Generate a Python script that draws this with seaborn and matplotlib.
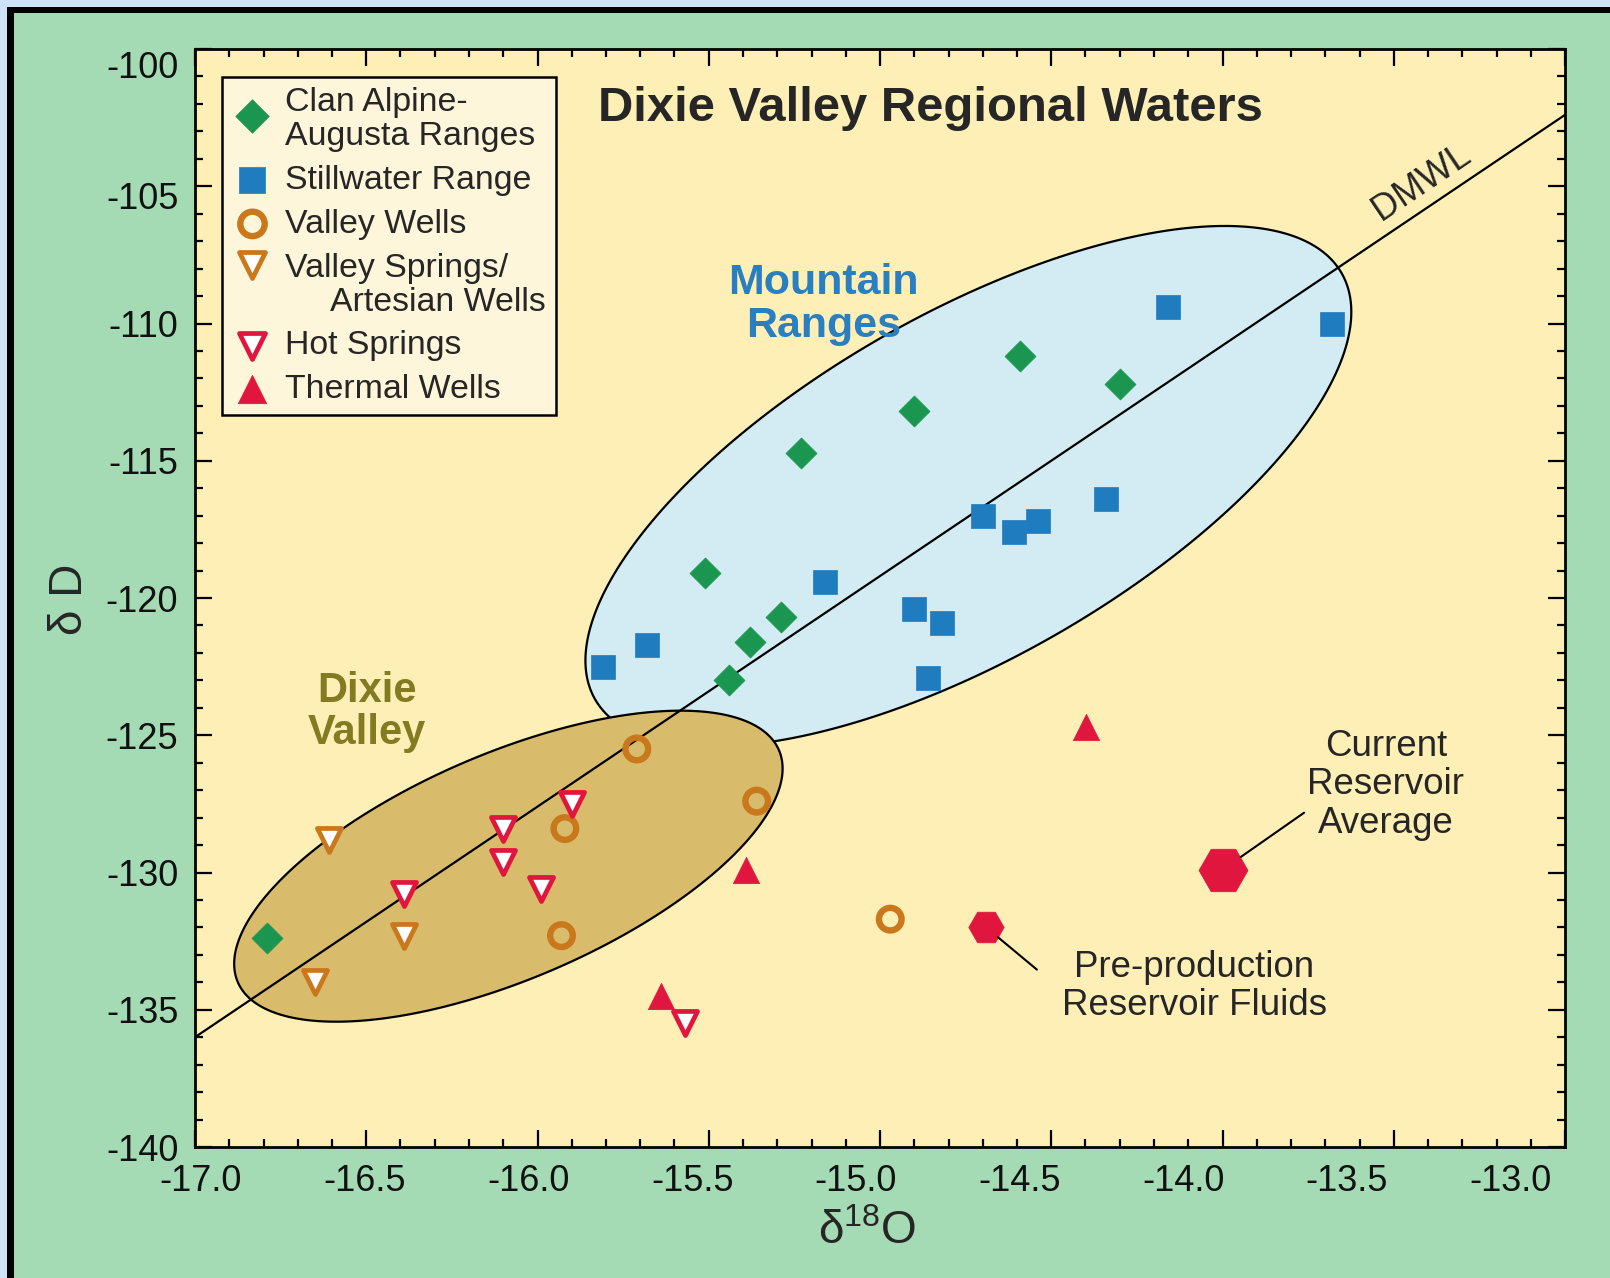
import numpy as np
import matplotlib
matplotlib.use("Agg")
import matplotlib.pyplot as plt
import seaborn as sns
from matplotlib.patches import Rectangle
from matplotlib.ticker import MultipleLocator
from matplotlib.transforms import ScaledTranslation

# ---------------------------------------------------------------------------
# Isotope data: delta-18O (per mil VSMOW) and delta-D (per mil VSMOW)
# ---------------------------------------------------------------------------
clan_o18 = [-16.79, -15.51, -15.44, -15.38, -15.29, -15.23, -14.90, -14.59, -14.30]
clan_d = [-132.4, -119.1, -123.0, -121.6, -120.7, -114.7, -113.2, -111.2, -112.2]

still_o18 = [-15.81, -15.68, -15.16, -14.90, -14.82, -14.86,
             -14.70, -14.61, -14.54, -14.34, -14.16, -13.68]
still_d = [-122.5, -121.7, -119.4, -120.4, -120.9, -122.9,
           -117.0, -117.6, -117.2, -116.4, -109.4, -110.0]

vwell_o18 = [-15.71, -15.92, -15.36, -15.93, -14.97]
vwell_d = [-125.5, -128.4, -127.4, -132.3, -131.7]

vspring_o18 = [-16.61, -16.39, -16.65]
vspring_d = [-128.8, -132.3, -134.0]

hot_o18 = [-16.39, -16.10, -16.10, -15.99, -15.90, -15.57]
hot_d = [-130.8, -128.4, -129.6, -130.6, -127.5, -135.5]

therm_o18 = [-15.39, -15.64, -14.40]
therm_d = [-129.9, -134.5, -124.7]

preprod_o18 = [-14.69]
preprod_d = [-132.0]
current_o18 = [-14.00]
current_d = [-129.9]

# Dixie Valley meteoric water line: dD = slope * d18O + intercept
dmwl_slope = 8.4
dmwl_intercept = 6.8
dmwl_o18 = np.array([-17.0, -13.0])

# Field outlines: centre plus two conjugate half-axes, in (d18O, dD) units
mountain_center = (-14.742, -115.93)
mountain_u = (1.090, 7.759)
mountain_v = (-0.249, 5.452)
valley_center = (-16.085, -129.77)
valley_u = (0.790, 4.225)
valley_v = (-0.130, 3.774)

x_ticks = [-17.0, -16.5, -16.0, -15.5, -15.0, -14.5, -14.0, -13.5, -13.0]
x_tick_labels = ["-17.0", "-16.5", "-16.0", "-15.5", "-15.0",
                 "-14.5", "-14.0", "-13.5", "-13.0"]
y_ticks = [-140, -135, -130, -125, -120, -115, -110, -105, -100]
y_tick_labels = ["-140", "-135", "-130", "-125", "-120",
                 "-115", "-110", "-105", "-100"]

# ---------------------------------------------------------------------------
# Colours
# ---------------------------------------------------------------------------
OUTER = "#cfe3f8"
FRAME = "#000000"
PANEL = "#a4dab4"
PLOT_BG = "#fdefb6"
LEGEND_BG = "#fdf6da"
MOUNTAIN_FILL = "#d3ecf4"
VALLEY_FILL = "#d8bb6b"
GREEN = "#1b9650"
BLUE = "#1f7cbf"
ORANGE = "#c9781c"
RED = "#e0163e"
MOUNTAIN_TXT = "#2a7fc0"
VALLEY_TXT = "#847a22"

sns.set_style("ticks")
plt.rcParams["font.family"] = ["Liberation Sans", "DejaVu Sans"]
plt.rcParams["mathtext.fontset"] = "custom"
plt.rcParams["mathtext.rm"] = "Liberation Sans"
plt.rcParams["mathtext.it"] = "Liberation Sans:italic"
plt.rcParams["mathtext.bf"] = "Liberation Sans:bold"
plt.rcParams["axes.unicode_minus"] = False

W, H = 1610, 1278
fig = plt.figure(figsize=(W / 100, H / 100), dpi=100, facecolor=OUTER)

# Framed panel behind the plot
fig.add_artist(Rectangle((7 / W, 0), 1, 1 - 7 / H, transform=fig.transFigure,
                         facecolor=FRAME, edgecolor="none", zorder=-20))
fig.add_artist(Rectangle((14 / W, 0), 1, 1 - 13 / H, transform=fig.transFigure,
                         facecolor=PANEL, edgecolor="none", zorder=-19))

ax = fig.add_axes([195 / W, 131 / H, 1370 / W, 1098 / H])
ax.set_facecolor(PLOT_BG)


def ellipse_outline(center, u, v, n=400):
    t = np.linspace(0, 2 * np.pi, n)
    xs = center[0] + u[0] * np.cos(t) + v[0] * np.sin(t)
    ys = center[1] + u[1] * np.cos(t) + v[1] * np.sin(t)
    return xs, ys


mx, my = ellipse_outline(mountain_center, mountain_u, mountain_v)
ax.fill(mx, my, facecolor=MOUNTAIN_FILL, edgecolor="black", linewidth=1.6, zorder=1)
vx, vy = ellipse_outline(valley_center, valley_u, valley_v)
ax.fill(vx, vy, facecolor=VALLEY_FILL, edgecolor="black", linewidth=1.6, zorder=1.5)

# Meteoric water line
sns.lineplot(x=dmwl_o18, y=dmwl_slope * dmwl_o18 + dmwl_intercept,
             color="black", linewidth=1.6, ax=ax, zorder=2)

# Sample groups
sns.scatterplot(x=clan_o18, y=clan_d, marker="D", s=250, color=GREEN,
                edgecolor=GREEN, linewidth=0.5, label="Clan Alpine-\nAugusta Ranges",
                ax=ax, zorder=4)
sns.scatterplot(x=still_o18, y=still_d, marker="s", s=280, color=BLUE,
                edgecolor=BLUE, linewidth=0.5, label="Stillwater Range",
                ax=ax, zorder=4)
sns.scatterplot(x=vwell_o18, y=vwell_d, marker="o", s=265, color="none",
                edgecolor=ORANGE, linewidth=4.6, label="Valley Wells",
                ax=ax, zorder=4)
sns.scatterplot(x=vspring_o18, y=vspring_d, marker="v", s=300, color="white",
                edgecolor=ORANGE, linewidth=3.4,
                label="Valley Springs/\n     Artesian Wells", ax=ax, zorder=4)
sns.scatterplot(x=hot_o18, y=hot_d, marker="v", s=300, color="white",
                edgecolor=RED, linewidth=3.4, label="Hot Springs", ax=ax, zorder=4)
sns.scatterplot(x=therm_o18, y=therm_d, marker="^", s=360, color=RED,
                edgecolor=RED, linewidth=0.5, label="Thermal Wells", ax=ax, zorder=4)

# Reservoir fluids
sns.scatterplot(x=preprod_o18, y=preprod_d, marker="H", s=650, color=RED,
                edgecolor=RED, linewidth=0.5, ax=ax, zorder=4, legend=False)
sns.scatterplot(x=current_o18, y=current_d, marker="H", s=1250, color=RED,
                edgecolor=RED, linewidth=0.5, ax=ax, zorder=4, legend=False)

# Axes limits, ticks
ax.set_xlim(-17.0, -13.0)
ax.set_ylim(-140, -100)
ax.xaxis.set_major_locator(MultipleLocator(0.5))
ax.xaxis.set_minor_locator(MultipleLocator(0.1))
ax.set_yticks(y_ticks, labels=y_tick_labels)
ax.yaxis.set_minor_locator(MultipleLocator(1))
ax.tick_params(which="both", direction="in", top=True, right=True,
               width=1.6, color="black")
ax.tick_params(which="major", length=12)
ax.tick_params(which="minor", length=6)
ax.tick_params(axis="x", labelbottom=False)
ax.tick_params(axis="y", labelsize=26, pad=12, labelcolor="#111111")
for side in ax.spines.values():
    side.set_linewidth(2.0)
    side.set_color("black")

# Top labels sit a little lower to stay clear of the frame
y_label_nudge = {-100: 11, -105: 6.5}
for tick_val, lbl in zip(y_ticks, ax.get_yticklabels()):
    if tick_val in y_label_nudge:
        lbl.set_transform(lbl.get_transform() +
                          ScaledTranslation(0, -y_label_nudge[tick_val] / 72,
                                            fig.dpi_scale_trans))

# d18O labels are carried by a label-only bottom axis
label_stretch = 0.956
label_shift = 0.0175


def o18_to_label(x):
    return -17.0 + ((np.asarray(x) + 17.0) - label_shift) / label_stretch


def label_to_o18(v):
    return -17.0 + (np.asarray(v) + 17.0) * label_stretch + label_shift


sec = ax.secondary_xaxis("bottom", functions=(o18_to_label, label_to_o18))
sec.set_xticks(x_ticks, labels=x_tick_labels)
sec.tick_params(length=0, pad=12.5, labelsize=26, labelcolor="#111111")
sec.spines["bottom"].set_visible(False)

ax.set_xlabel(r"δ$^{18}$O", fontsize=33)
ax.xaxis.set_label_coords(0.491, -0.057)
ax.set_ylabel("δ D", fontsize=33)
ax.yaxis.set_label_coords(-0.075, 0.499)

# Titles and field names
ax.text(0.537, 0.946, "Dixie Valley Regional Waters", transform=ax.transAxes,
        fontsize=35.3, fontweight="bold", ha="center", va="center", zorder=6)
ax.text(-15.165, -109.30, "Mountain\nRanges", color=MOUNTAIN_TXT, fontsize=31,
        fontweight="bold", ha="center", va="center", linespacing=1.08, zorder=6)
ax.text(-16.499, -124.15, "Dixie\nValley", color=VALLEY_TXT, fontsize=30,
        fontweight="bold", ha="center", va="center", linespacing=1.08, zorder=6)
ax.text(-13.418, -104.85, "DMWL", rotation=34, rotation_mode="anchor",
        fontsize=26, ha="center", va="center", zorder=6)

ax.annotate("Current\nReservoir\nAverage", xy=(current_o18[0], current_d[0]),
            xytext=(-13.523, -126.80), textcoords="data", ha="center", va="center",
            fontsize=26.4, linespacing=1.13, zorder=6,
            arrowprops=dict(arrowstyle="-", color="black", lw=1.5,
                            shrinkA=0, shrinkB=16, relpos=(0.0, 0.27)))
ax.annotate("Pre-production\nReservoir Fluids", xy=(preprod_o18[0], preprod_d[0]),
            xytext=(-14.083, -134.15), textcoords="data", ha="center", va="center",
            fontsize=26.4, linespacing=1.13, zorder=6,
            arrowprops=dict(arrowstyle="-", color="black", lw=1.5,
                            shrinkA=20, shrinkB=11, relpos=(0.0, 0.45)))

leg = ax.legend(loc="upper left", bbox_to_anchor=(0.0197, 0.9745), borderaxespad=0,
                frameon=True, fancybox=False, framealpha=1, facecolor=LEGEND_BG,
                edgecolor="black", fontsize=24.4, handlelength=1.2,
                handletextpad=0.36, borderpad=0.3, labelspacing=0.38,
                scatterpoints=1, markerscale=1.08)
leg.get_frame().set_linewidth(1.8)
leg.set_zorder(10)
for t in leg.get_texts():
    t.set_linespacing(1.12)

# Legend symbols: centre the first one on its two lines, put the
# springs symbol level with its first line (offsets in points)
handle_lift = {0: 5.0, 3: 16.5}
for idx, dy in handle_lift.items():
    handle = leg.legend_handles[idx]
    offs = np.array(handle.get_offsets(), dtype=float)
    offs[:, 1] += dy
    handle.set_offsets(offs)

fig.savefig("out.png", dpi=100, facecolor=OUTER)
